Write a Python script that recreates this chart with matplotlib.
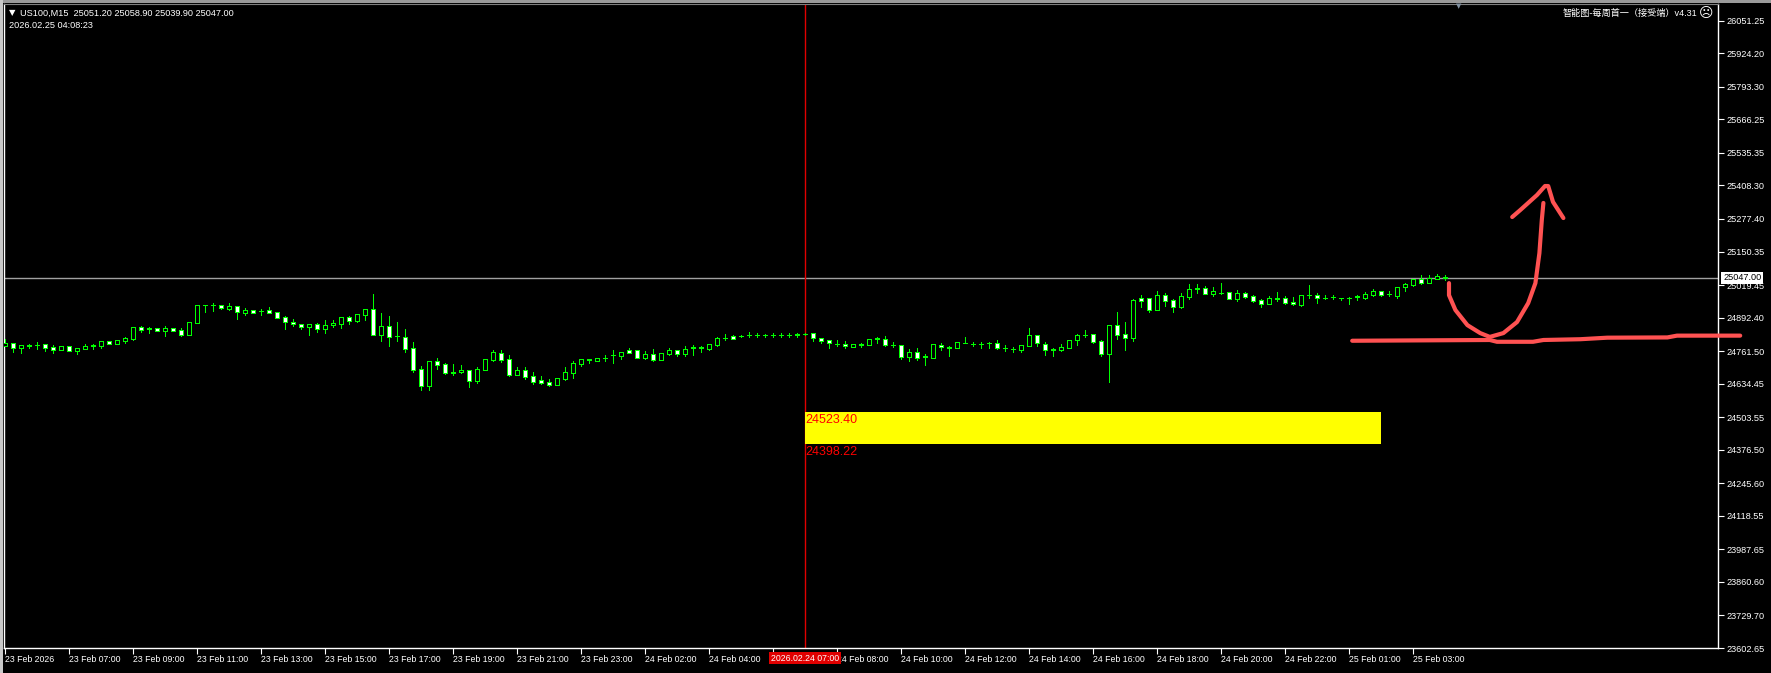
import matplotlib.pyplot as plt
import pandas as pd
from matplotlib.patches import Rectangle
from matplotlib.transforms import blended_transform_factory

plt.rcParams['font.family'] = ['Liberation Sans', 'Noto Sans CJK SC', 'DejaVu Sans']

# ---- data ----
symbol = "US100,M15"
clock = "2026.02.25 04:08:23"
indicator = "智能图-每周首一（接受端）v4.31"

# M15 bars, 23 Feb 05:00 -> 25 Feb 04:00, daily break 00:00-01:00
times = pd.date_range("2026-02-23 05:00", "2026-02-25 04:00", freq="15min")
times = times[times.hour != 0]

opens = [24783, 24793, 24775, 24786, 24784, 24788, 24777, 24766, 24780, 24763,
         24771, 24783, 24783, 24801, 24789, 24801, 24807, 24854, 24849, 24850,
         24841, 24850, 24844, 24826, 24872, 24940, 24940, 24940, 24927, 24936,
         24911, 24921, 24919, 24921, 24913, 24893, 24875, 24867, 24854, 24866,
         24849, 24862, 24869, 24893, 24878, 24904, 24925, 24823, 24858, 24819,
         24815, 24774, 24690, 24627, 24723, 24710, 24678, 24679, 24688, 24646,
         24688, 24727, 24753, 24729, 24668, 24688, 24664, 24649, 24640, 24631,
         24653, 24677, 24712, 24728, 24724, 24733, 24745, 24744, 24766, 24765,
         24736, 24750, 24727, 24752, 24766, 24752, 24775, 24775, 24771, 24787,
         24811, 24820, 24821, 24825, 24826, 24823, 24824, 24825, 24826, 24826,
         24828, 24831, 24811, 24804, 24791, 24788, 24779, 24787, 24787, 24810,
         24807, 24784, 24784, 24740, 24757, 24740, 24736, 24787, 24775, 24774,
         24795, 24790, 24790, 24793, 24792, 24772, 24771, 24766, 24781, 24823,
         24788, 24767, 24766, 24775, 24805, 24824, 24827, 24803, 24750, 24862,
         24828, 24814, 24969, 24967, 24923, 24979, 24963, 24935, 24974, 25005,
         25006, 24984, 24989, 24991, 24966, 24987, 24975, 24960, 24947, 24967,
         24967, 24953, 24941, 24980, 24979, 24970, 24971, 24969, 24970, 24974,
         24970, 24982, 24995, 24984, 24977, 25010, 25019, 25042, 25029, 25043,
         25051.20]
highs = [24807, 24794, 24785, 24788, 24797, 24789, 24784, 24781, 24781, 24773,
         24789, 24790, 24801, 24802, 24806, 24818, 24856, 24859, 24857, 24852,
         24860, 24851, 24850, 24875, 24942, 24941, 24949, 24942, 24948, 24937,
         24930, 24922, 24927, 24932, 24914, 24898, 24885, 24868, 24867, 24872,
         24882, 24882, 24894, 24898, 24906, 24926, 24984, 24910, 24898, 24875,
         24848, 24797, 24703, 24724, 24735, 24714, 24711, 24707, 24689, 24698,
         24732, 24766, 24766, 24746, 24698, 24698, 24680, 24663, 24651, 24657,
         24698, 24723, 24732, 24730, 24736, 24745, 24766, 24758, 24772, 24766,
         24761, 24770, 24755, 24772, 24767, 24781, 24785, 24780, 24789, 24817,
         24827, 24823, 24823, 24835, 24833, 24830, 24833, 24833, 24833, 24833,
         24832, 24832, 24812, 24805, 24804, 24800, 24790, 24795, 24810, 24818,
         24819, 24796, 24785, 24770, 24774, 24750, 24789, 24792, 24781, 24797,
         24815, 24797, 24798, 24798, 24804, 24785, 24778, 24785, 24852, 24824,
         24796, 24774, 24788, 24806, 24830, 24844, 24828, 24804, 24863, 24914,
         24875, 24964, 24979, 24968, 24995, 24988, 24964, 24987, 25023, 25023,
         25014, 25010, 25027, 24992, 24999, 24991, 24982, 24965, 24977, 24992,
         24977, 24973, 24980, 25019, 24987, 24979, 24982, 24970, 24971, 24982,
         24992, 25003, 24996, 24997, 25011, 25027, 25043, 25059, 25060, 25062,
         25058.90]
lows = [24781, 24759, 24755, 24774, 24770, 24763, 24755, 24765, 24761, 24751,
        24770, 24768, 24775, 24789, 24788, 24794, 24805, 24836, 24833, 24840,
        24822, 24840, 24822, 24825, 24871, 24915, 24919, 24927, 24922, 24888,
        24902, 24910, 24904, 24909, 24891, 24849, 24861, 24846, 24826, 24837,
        24833, 24857, 24853, 24869, 24877, 24882, 24825, 24802, 24783, 24801,
        24759, 24681, 24610, 24610, 24693, 24672, 24670, 24678, 24623, 24637,
        24687, 24724, 24719, 24665, 24667, 24654, 24632, 24632, 24627, 24630,
        24649, 24657, 24705, 24716, 24723, 24723, 24716, 24732, 24753, 24735,
        24731, 24723, 24726, 24748, 24744, 24742, 24748, 24759, 24767, 24783,
        24805, 24807, 24815, 24818, 24818, 24818, 24816, 24815, 24815, 24818,
        24826, 24801, 24792, 24775, 24783, 24772, 24778, 24779, 24786, 24795,
        24780, 24776, 24732, 24723, 24727, 24707, 24735, 24766, 24742, 24773,
        24792, 24781, 24774, 24775, 24771, 24762, 24759, 24758, 24780, 24781,
        24746, 24742, 24762, 24774, 24785, 24817, 24793, 24742, 24641, 24809,
        24766, 24802, 24934, 24915, 24922, 24938, 24915, 24930, 24965, 24988,
        24985, 24977, 24986, 24964, 24958, 24970, 24953, 24934, 24946, 24958,
        24947, 24943, 24939, 24970, 24951, 24965, 24965, 24961, 24944, 24961,
        24965, 24978, 24978, 24977, 24970, 24997, 25014, 25023, 25026, 25042,
        25039.90]
closes = [24794, 24775, 24784, 24783, 24785, 24775, 24767, 24780, 24763, 24772,
          24781, 24785, 24800, 24790, 24805, 24813, 24854, 24844, 24850, 24841,
          24850, 24841, 24826, 24874, 24940, 24940, 24941, 24928, 24937, 24913,
          24922, 24911, 24920, 24911, 24892, 24874, 24866, 24854, 24866, 24849,
          24862, 24871, 24893, 24878, 24905, 24925, 24826, 24860, 24818, 24820,
          24771, 24686, 24627, 24723, 24709, 24676, 24679, 24688, 24646, 24692,
          24731, 24758, 24727, 24668, 24688, 24660, 24642, 24638, 24631, 24656,
          24679, 24715, 24731, 24729, 24735, 24734, 24746, 24757, 24755, 24736,
          24750, 24727, 24754, 24766, 24752, 24770, 24776, 24776, 24788, 24813,
          24812, 24810, 24822, 24826, 24825, 24824, 24825, 24826, 24825, 24827,
          24830, 24811, 24802, 24792, 24790, 24780, 24789, 24788, 24809, 24811,
          24784, 24785, 24740, 24757, 24736, 24741, 24788, 24776, 24776, 24796,
          24794, 24789, 24791, 24794, 24772, 24773, 24770, 24784, 24823, 24792,
          24766, 24768, 24776, 24805, 24824, 24825, 24797, 24750, 24862, 24824,
          24814, 24960, 24958, 24923, 24980, 24958, 24935, 24977, 25003, 25006,
          24986, 24995, 24990, 24966, 24987, 24974, 24958, 24947, 24969, 24966,
          24951, 24944, 24979, 24981, 24967, 24970, 24971, 24968, 24970, 24975,
          24984, 24996, 24979, 24985, 25010, 25023, 25042, 25029, 25047, 25053,
          25047.00]

price_ticks = [26051.25, 25924.20, 25793.30, 25666.25, 25535.35, 25408.30,
               25277.40, 25150.35, 25019.45, 24892.40, 24761.50, 24634.45,
               24503.55, 24376.50, 24245.60, 24118.55, 23987.65, 23860.60,
               23729.70, 23602.65]

bid = 25047.00
zone_top, zone_bottom = 24523.40, 24398.22
zone_from, zone_to = "2026-02-24 07:00", "2026-02-25 02:00"
cursor_time = "2026-02-24 07:00"

# hand drawn strokes: (bar position, price)
stroke_line = [(168.4, 24802), (185.6, 24805), (186.5, 24798), (191.0, 24798),
               (192.3, 24805), (196.9, 24808), (200.3, 24814), (207.8, 24815),
               (209.0, 24822), (216.9, 24822)]
stroke_curve = [(180.5, 25027), (180.5, 24980), (181.3, 24922), (182.8, 24863),
                (184.4, 24832), (185.6, 24817), (187.3, 24832), (189.0, 24875),
                (190.4, 24949), (191.3, 25027), (191.8, 25144), (192.1, 25273),
                (192.3, 25340)]
stroke_head = [(188.4, 25285), (189.4, 25312), (191.5, 25371), (192.5, 25406),
               (192.9, 25406), (193.5, 25344), (194.8, 25281)]

# ---- figure ----
W, H, DPI = 1771, 673, 100
fig = plt.figure(figsize=(W / DPI, H / DPI), dpi=DPI, facecolor='black')
ax = fig.add_axes([4 / W, 1 - 648 / H, 1714 / W, 644 / H], facecolor='black')

n = len(opens)
x = list(range(n))
ax.set_xlim(-1 / 8, 1713 / 8)
ax.set_ylim(23602.65, 23602.65 + 644 * 3.9036)

green = '#00ff00'
ax.vlines(x, lows, highs, color=green, lw=0.72, antialiased=False, zorder=3)
body_lo = [min(o, c) for o, c in zip(opens, closes)]
body_h = [abs(c - o) for o, c in zip(opens, closes)]
fills = ['black' if c >= o else 'white' for o, c in zip(opens, closes)]
ax.bar(x, body_h, bottom=body_lo, width=0.6, color=fills, edgecolor=green,
       linewidth=0.72, antialiased=False, zorder=4)

ic = times.get_loc(pd.Timestamp(cursor_time))
z0 = times.get_loc(pd.Timestamp(zone_from))
z1 = times.get_loc(pd.Timestamp(zone_to))

ax.axhline(bid, color='#a0a0a0', lw=1, zorder=1)
ax.axvline(ic, color='#e00000', lw=1, zorder=2)
ax.fill_between([z0, z1], zone_bottom, zone_top, color='#ffff00', lw=0, zorder=2)
ax.text(z0, zone_top - 6, f"{zone_top:.2f}", color='#ff0000', fontsize=9,
        ha='left', va='top', zorder=6)
ax.text(z0, zone_bottom - 6, f"{zone_bottom:.2f}", color='#ff0000', fontsize=9,
        ha='left', va='top', zorder=6)

for pts in (stroke_line, stroke_curve, stroke_head):
    xs, ys = zip(*pts)
    ax.plot(xs, ys, color='#ff5252', lw=3, solid_capstyle='round',
            solid_joinstyle='round', clip_on=False, zorder=8)

# axes styling
for side in ['left', 'bottom', 'right']:
    ax.spines[side].set_color('white')
    ax.spines[side].set_linewidth(1)
ax.spines['top'].set_color('#808080')

ax.yaxis.tick_right()
ax.set_yticks(price_ticks, [f"{p:.2f}" for p in price_ticks])
ax.tick_params(axis='y', colors='white', length=4, width=0.8, pad=2, labelsize=6.6)

tick_pos = list(range(0, n, 8))
tick_lab = [times[i].strftime('%d %b %H:%M') for i in tick_pos]
tick_lab[0] = times[0].strftime('%d %b %Y')
# the label that sits fully under the cursor time box is hidden in the terminal
tick_lab = ['' if ic - 6 <= p < ic else t for p, t in zip(tick_pos, tick_lab)]
ax.set_xticks(tick_pos, tick_lab, ha='left')
ax.tick_params(axis='x', colors='white', length=4, width=0.8, pad=1, labelsize=6.3)

# cursor time label and bid label
bx = blended_transform_factory(ax.transData, ax.transAxes)
ax.text(ic, -0.009, times[ic].strftime('%Y.%m.%d %H:%M'), transform=bx,
        ha='center', va='top', color='white', fontsize=6.3, clip_on=False,
        bbox=dict(facecolor='#e00000', edgecolor='none', pad=1.2), zorder=10)
by = blended_transform_factory(ax.transAxes, ax.transData)
ax.text(1.003, bid, f"{bid:.2f}", transform=by, ha='left', va='center',
        color='black', fontsize=6.6, clip_on=False,
        bbox=dict(facecolor='white', edgecolor='none', pad=1.2), zorder=10)

# header texts
fig.text(9 / W, 1 - 13 / H, '▼', color='white', fontsize=6, family='DejaVu Sans',
         va='center', ha='left')
fig.text(20 / W, 1 - 13 / H,
         f"{symbol}  {opens[-1]:.2f} {highs[-1]:.2f} {lows[-1]:.2f} {closes[-1]:.2f}",
         color='white', fontsize=6.6, va='center', ha='left')
fig.text(9 / W, 1 - 25 / H, clock, color='white', fontsize=6.6, va='center', ha='left')
fig.text(1697 / W, 1 - 13 / H, indicator, color='white', fontsize=6.6,
         va='center', ha='right')
fig.text(1706 / W, 1 - 13 / H, '☹', color='white', fontsize=10,
         family='DejaVu Sans', va='center', ha='center')
fig.text(1459 / W, 1 - 6 / H, '▼', color='#8090a0', fontsize=5,
         family='DejaVu Sans', va='center', ha='center')

# window border
fig.add_artist(Rectangle((0, 1 - 3 / H), 1, 3 / H, transform=fig.transFigure,
                         color='#9a9a9a', lw=0))
fig.add_artist(Rectangle((0, 0), 3 / W, 1, transform=fig.transFigure,
                         color='#c8c8c8', lw=0))

fig.savefig('out.png', dpi=DPI, facecolor='black')
